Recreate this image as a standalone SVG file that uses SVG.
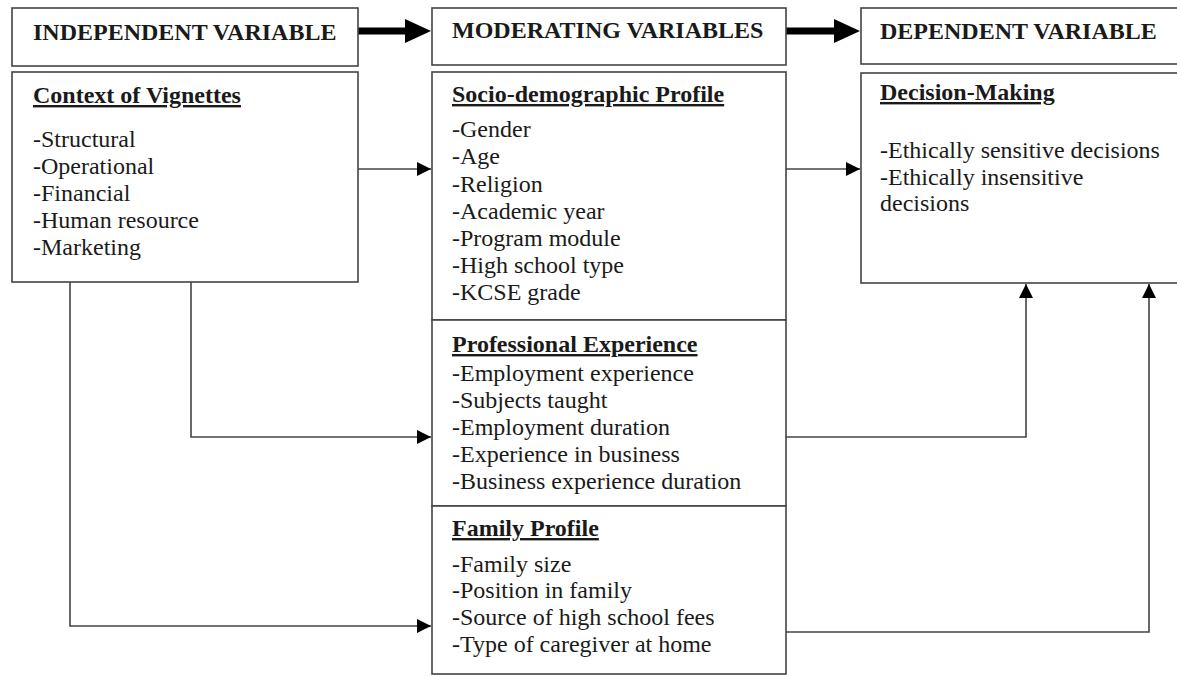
<svg xmlns="http://www.w3.org/2000/svg" width="1177" height="676" viewBox="0 0 1177 676">
<style>
.box{fill:#fff;stroke:#444;stroke-width:1.6}
.ln{fill:none;stroke:#444;stroke-width:1.6}
.hd{font-family:"Liberation Serif","Times New Roman",serif;font-weight:bold;font-size:24px;fill:#1a1a1a}
.tt{font-family:"Liberation Serif","Times New Roman",serif;font-weight:bold;font-size:24px;fill:#1a1a1a;text-decoration:underline}
.it{font-family:"Liberation Serif","Times New Roman",serif;font-size:24px;fill:#1a1a1a}
</style>
<defs>
<marker id="ah" viewBox="0 0 10 10" refX="10" refY="5" markerWidth="14" markerHeight="14" markerUnits="userSpaceOnUse" orient="auto"><path d="M0,0 L10,5 L0,10 Z" fill="#000"/></marker>
</defs>
<rect width="1177" height="676" fill="#fff"/>

<g id="connectors">
<path d="M358,31 H407" stroke="#000" stroke-width="7" fill="none"/>
<path d="M405,19 L431,31 L405,43 Z" fill="#000"/>
<path d="M786,31 H836" stroke="#000" stroke-width="7" fill="none"/>
<path d="M834,19 L860,31 L834,43 Z" fill="#000"/>
<path class="ln" d="M358,169 H431" marker-end="url(#ah)"/>
<path class="ln" d="M786,169 H860" marker-end="url(#ah)"/>
<path class="ln" d="M191,282 V437 H431" marker-end="url(#ah)"/>
<path class="ln" d="M70,282 V626 H431" marker-end="url(#ah)"/>
<path class="ln" d="M786,437 H1026 V284" marker-end="url(#ah)"/>
<path class="ln" d="M786,632 H1149 V284" marker-end="url(#ah)"/>
</g>

<g id="independent-header">
<rect class="box" x="12" y="8" width="346" height="58"/>
<text class="hd" x="33" y="40">INDEPENDENT VARIABLE</text>
</g>
<g id="moderating-header">
<rect class="box" x="432" y="8" width="354" height="57"/>
<text class="hd" x="452" y="38">MODERATING VARIABLES</text>
</g>
<g id="dependent-header">
<rect class="box" x="861" y="8" width="330" height="56"/>
<text class="hd" x="880" y="39">DEPENDENT VARIABLE</text>
</g>

<g id="context-of-vignettes">
<rect class="box" x="12" y="72" width="346" height="210"/>
<text class="tt" x="33" y="103">Context of Vignettes</text>
<text class="it" x="33" y="147">-Structural</text>
<text class="it" x="33" y="174">-Operational</text>
<text class="it" x="33" y="201">-Financial</text>
<text class="it" x="33" y="228">-Human resource</text>
<text class="it" x="33" y="255">-Marketing</text>
</g>

<g id="socio-demographic">
<rect class="box" x="432" y="72" width="354" height="248"/>
<text class="tt" x="452" y="102">Socio-demographic Profile</text>
<text class="it" x="452" y="137">-Gender</text>
<text class="it" x="452" y="164">-Age</text>
<text class="it" x="452" y="192">-Religion</text>
<text class="it" x="452" y="219">-Academic year</text>
<text class="it" x="452" y="246">-Program module</text>
<text class="it" x="452" y="273">-High school type</text>
<text class="it" x="452" y="300">-KCSE grade</text>
</g>

<g id="professional-experience">
<rect class="box" x="432" y="320" width="354" height="186"/>
<text class="tt" x="452" y="352">Professional Experience</text>
<text class="it" x="452" y="381">-Employment experience</text>
<text class="it" x="452" y="408">-Subjects taught</text>
<text class="it" x="452" y="435">-Employment duration</text>
<text class="it" x="452" y="462">-Experience in business</text>
<text class="it" x="452" y="489">-Business experience duration</text>
</g>

<g id="family-profile">
<rect class="box" x="432" y="506" width="354" height="168"/>
<text class="tt" x="452" y="536">Family Profile</text>
<text class="it" x="452" y="572">-Family size</text>
<text class="it" x="452" y="598">-Position in family</text>
<text class="it" x="452" y="625">-Source of high school fees</text>
<text class="it" x="452" y="652">-Type of caregiver at home</text>
</g>

<g id="decision-making">
<rect class="box" x="861" y="73" width="330" height="210"/>
<text class="tt" x="880" y="100">Decision-Making</text>
<text class="it" x="880" y="158">-Ethically sensitive decisions</text>
<text class="it" x="880" y="185">-Ethically insensitive</text>
<text class="it" x="880" y="211">decisions</text>
</g>
</svg>
